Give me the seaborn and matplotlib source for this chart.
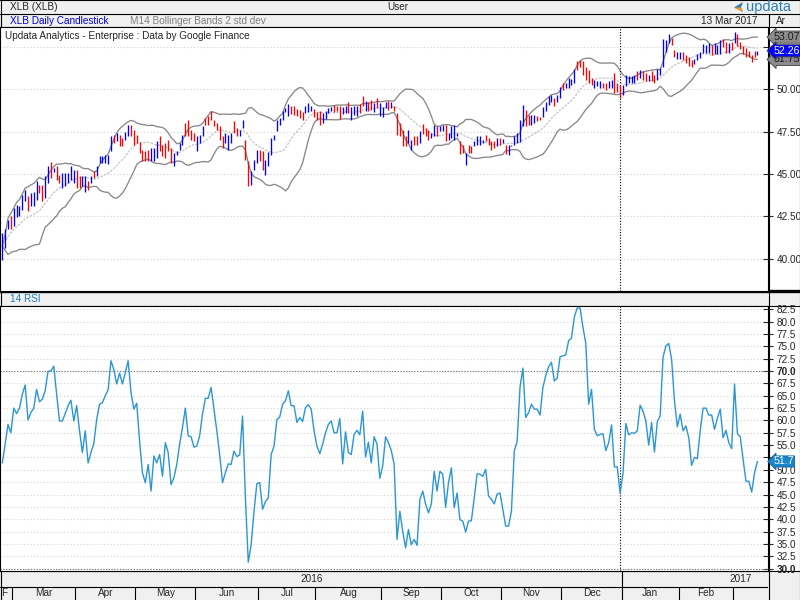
import matplotlib.pyplot as plt
import matplotlib.transforms as mtransforms
from matplotlib.patches import Rectangle, Polygon
import numpy as np
import pandas as pd
import seaborn as sns

sns.set_style('white')
plt.rcParams['font.family'] = ['Liberation Sans', 'DejaVu Sans']

# trading calendar of the chart (US market holidays removed)
holidays = ['2016-03-25', '2016-05-30', '2016-07-04', '2016-09-05', '2016-11-24',
            '2016-12-26', '2017-01-02', '2017-01-16', '2017-02-20']
dates = pd.bdate_range('2016-02-24', '2017-03-13', freq='C', holidays=holidays)

highs = [
    41.53, 41.76, 42.31, 42.51, 43.00, 43.20, 43.10, 43.78, 44.08, 43.69,
    43.88, 43.92, 44.57, 44.37, 44.37, 44.86, 45.45, 45.71, 45.35, 45.45,
    44.96, 45.06, 45.06, 45.06, 45.45, 45.25, 45.25, 44.86, 44.86, 44.86,
    44.57, 44.86, 45.16, 45.45, 46.04, 46.04, 46.14, 46.14, 47.25, 47.31,
    47.41, 47.31, 47.12, 47.45, 47.90, 47.90, 47.61, 47.31, 46.86, 46.43,
    46.33, 46.43, 46.53, 46.53, 46.92, 47.22, 46.73, 46.82, 47.02, 46.53,
    46.24, 46.33, 46.82, 47.31, 48.00, 48.20, 47.61, 47.41, 47.22, 47.31,
    47.80, 48.29, 48.39, 48.69, 48.20, 48.00, 47.80, 47.22, 47.41, 47.31,
    47.41, 48.10, 47.71, 47.61, 48.16, 47.02, 45.75, 45.16, 45.84, 46.43,
    46.43, 46.33, 45.84, 46.27, 47.12, 47.31, 48.20, 48.29, 48.69, 48.88,
    49.14, 49.02, 48.98, 48.82, 48.78, 48.63, 48.98, 49.18, 49.02, 48.82,
    48.63, 48.69, 48.59, 48.69, 48.88, 48.94, 49.08, 48.98, 49.02, 48.94,
    49.02, 49.22, 48.94, 49.02, 49.02, 49.14, 49.57, 49.33, 49.22, 49.37,
    49.18, 49.47, 49.18, 48.94, 49.27, 49.33, 49.22, 49.02, 48.59, 48.00,
    47.61, 47.25, 47.61, 47.02, 47.22, 47.22, 47.51, 47.96, 47.71, 47.61,
    47.41, 47.90, 47.84, 47.84, 47.90, 47.90, 47.41, 47.84, 47.90, 47.41,
    46.92, 46.73, 46.24, 46.73, 46.63, 46.92, 47.22, 47.22, 47.02, 47.31,
    47.12, 46.92, 46.92, 47.12, 47.12, 47.06, 46.73, 46.73, 46.73, 47.22,
    47.41, 48.20, 49.08, 48.78, 48.49, 48.49, 48.49, 48.39, 48.35, 48.94,
    49.27, 49.57, 49.67, 49.47, 49.67, 50.12, 50.35, 50.35, 50.65, 50.59,
    51.18, 51.63, 51.73, 51.63, 51.33, 51.14, 50.65, 50.55, 50.45, 50.45,
    50.35, 50.39, 50.45, 50.55, 50.98, 50.35, 50.25, 50.25, 50.84, 50.75,
    50.75, 50.84, 51.04, 51.14, 51.04, 50.94, 50.84, 51.04, 50.84, 51.18,
    51.24, 52.94, 52.90, 53.25, 53.00, 52.31, 52.20, 52.20, 52.16, 52.02,
    51.88, 51.73, 51.76, 52.08, 52.16, 52.67, 52.61, 52.71, 52.61, 52.71,
    52.61, 52.90, 52.94, 52.75, 52.71, 52.75, 53.39, 53.25, 52.75, 52.55,
    52.41, 52.27, 52.02, 52.27, 52.26,
]
lows = [
    39.96, 40.65, 41.76, 41.76, 41.92, 42.47, 42.50, 42.90, 43.39, 42.80,
    43.10, 43.10, 43.49, 43.88, 43.39, 43.59, 44.47, 44.76, 45.10, 44.67,
    44.47, 44.18, 44.27, 44.47, 44.67, 44.47, 44.18, 44.18, 44.27, 43.94,
    44.08, 44.47, 44.76, 44.86, 45.65, 45.65, 45.65, 45.61, 46.33, 46.82,
    46.92, 46.63, 46.63, 47.02, 47.22, 47.22, 46.73, 46.82, 46.24, 45.75,
    45.75, 45.75, 45.75, 45.75, 45.94, 46.33, 46.04, 45.94, 46.33, 45.65,
    45.45, 46.14, 46.43, 46.73, 47.22, 47.22, 47.02, 46.92, 46.33, 46.82,
    47.22, 47.90, 47.90, 48.20, 47.80, 47.61, 47.02, 46.53, 46.82, 46.43,
    46.82, 47.41, 47.22, 47.22, 47.71, 45.84, 44.27, 44.37, 45.25, 45.65,
    45.75, 45.25, 44.96, 45.45, 46.14, 47.02, 47.51, 47.90, 48.20, 48.63,
    48.43, 48.55, 48.49, 48.39, 48.29, 48.16, 48.59, 48.63, 48.69, 48.35,
    48.20, 47.90, 48.00, 48.24, 48.59, 48.69, 48.63, 48.69, 48.24, 48.55,
    48.59, 48.59, 48.20, 48.49, 48.43, 48.59, 48.98, 48.69, 48.69, 48.78,
    48.63, 48.88, 48.39, 48.35, 48.88, 48.78, 48.88, 48.69, 47.31, 47.22,
    46.63, 46.63, 46.82, 46.43, 46.73, 46.73, 46.82, 47.37, 47.22, 47.02,
    47.12, 47.22, 47.22, 47.51, 47.51, 46.92, 47.02, 47.12, 47.02, 47.22,
    46.20, 46.24, 45.55, 46.24, 46.24, 46.63, 46.73, 46.73, 46.82, 46.92,
    46.73, 46.43, 46.53, 46.63, 46.73, 46.82, 46.20, 46.14, 46.63, 46.73,
    46.82, 46.90, 47.80, 47.80, 47.90, 47.90, 48.00, 48.10, 48.16, 48.35,
    48.69, 49.08, 49.27, 48.98, 49.27, 49.47, 49.96, 50.06, 50.06, 50.25,
    50.35, 51.14, 51.33, 50.84, 50.55, 50.35, 50.25, 50.06, 50.16, 50.06,
    50.06, 49.96, 50.06, 50.06, 49.76, 49.86, 49.47, 49.67, 50.16, 50.35,
    50.35, 50.35, 50.55, 50.65, 50.55, 50.45, 50.45, 50.45, 50.39, 50.55,
    50.84, 51.33, 52.20, 52.70, 52.60, 51.92, 51.80, 51.80, 51.73, 51.53,
    51.37, 51.29, 51.49, 51.73, 51.82, 52.12, 52.12, 52.12, 52.02, 52.08,
    52.08, 52.08, 52.51, 52.12, 52.12, 52.31, 52.71, 52.55, 52.35, 52.08,
    51.92, 51.88, 51.57, 51.92, 52.02,
]
# B = up candle (blue), R = down candle (red)
candle_dirs = (
    'BBBRBBBBBR' 'BBBRRBBRBR' 'RBBBBBRRBB' 'RBRBBBBBBR' 'BRRBBRRRRR'
    'RRBBBRRRRR' 'BBBBRRRRBB' 'BRRRRRRRBB' 'BRRBBRRBBB' 'RRBBBBBBBB'
    'BRRRRRBBBR' 'RRBBBBRRRB' 'BRBBBRRBRR' 'BRBBBRBRRR' 'RRBBRRBRRR'
    'BBRBBRBBBB' 'RRBRRBBBBR' 'RRRBRBRBBB' 'BBBRRBBRRB' 'BBBRBBRBBB'
    'BRRRRRRBBB' 'RRBBRRRBBB' 'BBRBRRBRRB' 'BBBBRRBBRR' 'RRBBBBBBRB'
    'BBRRBRBRRR' 'RRRRB'
)
rsi = [
    51.4, 55.2, 59.2, 57.5, 62.5, 61.4, 62.5, 65.3, 67.2, 60.1,
    61.6, 62.5, 66.3, 63.8, 64.3, 66.1, 70.0, 70.0, 71.0, 65.3,
    59.9, 59.9, 61.4, 63.0, 64.1, 59.9, 63.0, 57.9, 53.5, 57.9,
    51.4, 53.5, 55.3, 60.2, 63.3, 63.6, 65.0, 66.2, 72.1, 70.3,
    67.4, 69.6, 67.4, 69.7, 72.1, 65.7, 62.3, 63.5, 55.8, 49.4,
    47.4, 51.1, 45.7, 52.8, 51.4, 53.1, 48.7, 55.5, 53.5, 47.0,
    48.4, 51.1, 55.2, 58.6, 62.5, 56.9, 56.7, 54.6, 54.8, 56.9,
    61.3, 64.5, 64.5, 66.7, 62.3, 57.9, 53.1, 47.4, 49.4, 51.2,
    51.1, 53.8, 52.7, 53.0, 60.9, 44.3, 31.3, 34.8, 41.6, 47.2,
    47.4, 42.0, 43.6, 44.3, 53.1, 54.8, 60.2, 60.7, 63.3, 64.0,
    66.0, 63.0, 63.0, 59.6, 60.6, 59.8, 62.6, 63.2, 62.3, 57.9,
    54.8, 53.3, 55.2, 57.5, 59.2, 59.9, 57.5, 57.5, 60.4, 51.2,
    57.7, 53.5, 53.1, 57.2, 58.0, 57.1, 61.9, 52.6, 55.6, 51.4,
    56.7, 55.2, 48.3, 50.8, 56.7, 55.5, 53.9, 51.1, 35.9, 41.6,
    37.5, 34.2, 37.9, 34.8, 35.9, 34.7, 44.0, 45.7, 43.0, 41.3,
    43.1, 49.7, 45.7, 49.7, 49.1, 42.4, 47.4, 50.4, 42.3, 45.3,
    39.9, 39.6, 37.4, 39.6, 39.7, 44.3, 49.2, 49.1, 48.7, 50.1,
    44.7, 44.0, 43.1, 45.1, 45.3, 42.0, 38.6, 38.6, 41.6, 53.8,
    55.8, 66.7, 70.6, 60.6, 61.6, 63.3, 62.3, 62.3, 61.1, 66.7,
    69.1, 70.9, 71.8, 68.0, 68.6, 72.9, 73.1, 73.3, 76.2, 76.7,
    81.0, 82.8, 82.8, 78.9, 75.6, 63.3, 66.3, 58.2, 56.9, 57.2,
    57.3, 53.9, 55.5, 59.1, 50.6, 50.6, 45.3, 49.2, 59.4, 57.1,
    57.5, 57.4, 57.9, 63.1, 61.9, 59.9, 55.0, 59.6, 53.6, 59.8,
    60.9, 72.8, 75.1, 75.6, 72.4, 64.0, 58.7, 61.3, 57.9, 58.9,
    56.5, 50.9, 52.5, 52.3, 57.9, 62.5, 62.5, 61.1, 61.1, 58.2,
    60.4, 62.3, 56.5, 58.0, 55.5, 54.3, 67.4, 57.3, 56.7, 52.1,
    47.7, 47.7, 45.5, 49.4, 51.7,
]
month_labels = ['F', 'Mar', 'Apr', 'May', 'Jun', 'Jul', 'Aug', 'Sep', 'Oct',
                'Nov', 'Dec', 'Jan', 'Feb', '']
year_labels = ['2016', '2017']

df = pd.DataFrame({'date': dates, 'high': highs, 'low': lows,
                   'up': [c == 'B' for c in candle_dirs], 'rsi': rsi})
df['x'] = np.arange(len(df))
df['close'] = np.where(df['up'], df['high'], df['low'])
# M14 Bollinger bands on the bar median price, 2 std dev
median_price = (df['high'] + df['low']) / 2
df['mid'] = median_price.rolling(14, min_periods=1).mean()
sd = median_price.rolling(14, min_periods=1).std(ddof=0)
df['upper'] = df['mid'] + 2 * sd
df['lower'] = df['mid'] - 2 * sd

W, H = 800, 600
GREY_BG = '#f0f0f0'
FS = 7.2
XLIM = (-0.8, 267.7)
cursor_x = df.index[df['date'] == pd.Timestamp('2016-12-30')][0]

fig = plt.figure(figsize=(8, 6), dpi=100)

# chrome drawn in pixel space
bg = fig.add_axes([0, 0, 1, 1])
bg.set_xlim(0, W)
bg.set_ylim(H, 0)
bg.axis('off')
for y0, h in [(0, 13.5), (13.5, 13), (292.5, 13), (571, 29)]:
    bg.add_patch(Rectangle((0, y0), W, h, fc=GREY_BG, ec='none'))
bg.plot([0, W], [13.5, 13.5], color='black', lw=0.8)
bg.plot([0, W], [26.5, 26.5], color='black', lw=0.8)
bg.plot([0, W], [291.3, 291.3], color='black', lw=2.4)
bg.plot([0, W], [305.5, 305.5], color='black', lw=0.8)
bg.plot([0, W], [571, 571], color='black', lw=0.8)
bg.plot([768.5, 768.5], [13.5, 600], color='black', lw=0.8)
bg.plot([0.5, 0.5], [0, 600], color='black', lw=0.8)
bg.plot([799.5, 799.5], [0, 600], color='black', lw=0.8)
bg.plot([0, W], [0.4, 0.4], color='black', lw=0.8)

bg.text(10, 7, 'XLB (XLB)', fontsize=FS, va='center')
bg.text(387, 7, 'User', fontsize=FS, va='center')
bg.add_patch(Polygon([[734, 7.5], [743, 2], [741, 7.5], [743, 12]], closed=True,
                     fc='#2a7fb8', ec='none'))
bg.add_patch(Polygon([[734, 7.5], [741, 7.5], [743, 12]], closed=True,
                     fc='#f39a1e', ec='none'))
bg.text(746, 6.5, 'updata', fontsize=10.5, color='#2a7fb8', va='center')
bg.text(10, 20.5, 'XLB Daily Candlestick', fontsize=FS, color='#0000dd', va='center')
bg.text(130, 20.5, 'M14 Bollinger Bands 2 std dev', fontsize=FS, color='#808080', va='center')
bg.text(757, 20.5, '13 Mar 2017', fontsize=FS, ha='right', va='center')
bg.text(776, 20.5, 'Ar', fontsize=FS, va='center')
bg.text(10, 299, '14 RSI', fontsize=FS, color='#1f7fc0', va='center')

# price panel
ax_p = fig.add_axes([0, 1 - 290.5 / H, 768 / W, (290.5 - 27) / H])
ax_p.set_facecolor('white')
ax_p.vlines(df['x'], df['low'], df['high'],
            colors=np.where(df['up'], '#0000ff', '#ff0000'), lw=0.95, zorder=3)
sns.lineplot(data=df, x='x', y='upper', color='#888888', lw=0.95, ax=ax_p, zorder=2)
sns.lineplot(data=df, x='x', y='lower', color='#888888', lw=0.95, ax=ax_p, zorder=2)
sns.lineplot(data=df, x='x', y='mid', color='#c4c4c4', lw=0.9, ax=ax_p, zorder=2,
             linestyle=(0, (2, 1)))
ax_p.set_xlim(*XLIM)
ax_p.set_ylim(38.14, 53.66)
price_ticks = np.arange(40, 53, 2.5)
ax_p.yaxis.tick_right()
ax_p.set_yticks(price_ticks)
# the 52.50 label sits under the last-value boxes
ax_p.set_yticklabels([f'{v:.2f}' if v < 52 else '' for v in price_ticks])
ax_p.set_xticks([])
ax_p.tick_params(axis='y', direction='inout', length=7, width=0.8, pad=2.5,
                 labelsize=FS, right=True)
ax_p.grid(axis='y', linestyle=(0, (1, 2)), color='#cfcfcf', lw=0.8)
ax_p.axvline(cursor_x, color='black', ls=(0, (1, 1.5)), lw=0.8)
ax_p.set_xlabel('')
ax_p.set_ylabel('')
ax_p.text(0.006, 0.985, 'Updata Analytics - Enterprise : Data by Google Finance',
          transform=ax_p.transAxes, fontsize=FS, va='top')
for s in ax_p.spines.values():
    s.set_color('black')
    s.set_linewidth(0.8)

tr_p = mtransforms.blended_transform_factory(ax_p.transAxes, ax_p.transData)
last = df.iloc[-1]
for val, fc, tc in [(last['lower'], '#8c8c8c', '#1a1a1a'),
                    (last['upper'], '#8c8c8c', '#1a1a1a'),
                    (last['close'], '#0000ff', 'white')]:
    ax_p.text(1.007, val, f'{val:.2f}', transform=tr_p, fontsize=FS + 0.5,
              color=tc, ha='left', va='center', clip_on=False, zorder=6,
              bbox=dict(boxstyle='larrow,pad=0.1', fc=fc, ec='#404040', lw=0.6))

# RSI panel
ax_r = fig.add_axes([0, 1 - 571 / H, 768 / W, (571 - 305.5) / H])
ax_r.set_facecolor('white')
sns.lineplot(data=df, x='x', y='rsi', color='#2a96d4', lw=1.0, ax=ax_r, zorder=3)
ax_r.set_xlim(*XLIM)
ax_r.set_ylim(29.5, 83.3)
rsi_ticks = np.arange(30, 83, 2.5)
ax_r.yaxis.tick_right()
ax_r.set_yticks(rsi_ticks)
# the 52.5 label is covered by the last-value box
ax_r.set_yticklabels([f'{v:.1f}' if v != 52.5 else '' for v in rsi_ticks])
for lab, v in zip(ax_r.get_yticklabels(), rsi_ticks):
    if v in (30, 70):
        lab.set_fontweight('bold')
ax_r.set_xticks([])
ax_r.tick_params(axis='y', direction='inout', length=7, width=0.8, pad=2.5,
                 labelsize=FS, right=True)
ax_r.grid(axis='y', linestyle=(0, (1, 2)), color='#d2d2d2', lw=0.8)
for lvl in (70, 30):
    ax_r.axhline(lvl, color='#707070', ls=(0, (1, 1.5)), lw=0.8)
ax_r.axvline(cursor_x, color='black', ls=(0, (1, 1.5)), lw=0.8)
ax_r.set_xlabel('')
ax_r.set_ylabel('')
for s in ax_r.spines.values():
    s.set_color('black')
    s.set_linewidth(0.8)
tr_r = mtransforms.blended_transform_factory(ax_r.transAxes, ax_r.transData)
ax_r.text(1.007, last['rsi'], f"{last['rsi']:.1f}", transform=tr_r, fontsize=FS + 0.5,
          color='white', ha='left', va='center', clip_on=False, zorder=6,
          bbox=dict(boxstyle='larrow,pad=0.05', fc='#1a86c8', ec='#0d5f99', lw=0.6))

# date strip
ax_d = fig.add_axes([0, 0, 768 / W, 29 / H])
ax_d.set_xlim(*XLIM)
ax_d.set_ylim(0, 1)
ax_d.axis('off')
split = 13 / 29
ax_d.axhline(split, color='black', lw=0.8)
months = df.groupby(df['date'].dt.to_period('M'))['x']
for i, ((per, xs), lab) in enumerate(zip(months, month_labels)):
    if xs.min() > 0:
        ax_d.plot([xs.min() - 0.5] * 2, [0, split], color='black', lw=0.8)
    if i == 0:
        ax_d.text(XLIM[0] + 0.3, split / 2, lab, ha='left', va='center', fontsize=FS)
    else:
        ax_d.text(xs.mean(), split / 2, lab, ha='center', va='center', fontsize=FS)
years = df.groupby(df['date'].dt.year)['x']
year_pos = [years.get_group(2016).mean(), years.get_group(2017).max() - 6]
for yr_x, lab in zip(year_pos, year_labels):
    ax_d.text(yr_x, (1 + split) / 2, lab, ha='center', va='center', fontsize=FS)
ax_d.plot([years.get_group(2017).min() - 0.5] * 2, [split, 1], color='black', lw=0.8)

fig.savefig('out.png', dpi=100)
